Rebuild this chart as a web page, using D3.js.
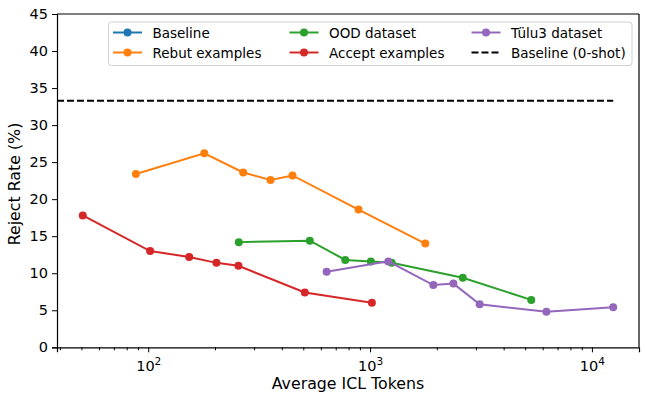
<!DOCTYPE html>
<html><head><meta charset="utf-8">
<script src="https://cdn.jsdelivr.net/npm/d3@7"></script>
<style>body{margin:0;background:#fff}svg{display:block}text{font-family:"DejaVu Sans",sans-serif}</style>
</head><body><svg id="c" width="647" height="400"></svg>
<script>
const rebutX = [88, 179, 268, 356, 447, 887, 1774];
const rebutY = [23.4, 26.2, 23.6, 22.6, 23.2, 18.6, 14.0];
const acceptX = [50.7, 102, 153, 203, 255, 508, 1019];
const acceptY = [17.8, 13.0, 12.2, 11.4, 11.0, 7.4, 6.0];
const oodX = [256, 535, 773, 1008, 1251, 2617, 5326];
const oodY = [14.2, 14.4, 11.8, 11.6, 11.4, 9.4, 6.4];
const tuluX = [637, 1208, 1928, 2375, 3119, 6237, 12470];
const tuluY = [10.2, 11.6, 8.4, 8.6, 5.8, 4.8, 5.4];
const baselineZeroShot = 33.3;
const yTicks = [0, 5, 10, 15, 20, 25, 30, 35, 40, 45];
const xTicks = [100, 1000, 10000];
const xTickLabels = ["2", "3", "4"];
const legendNames = ["Baseline", "Rebut examples", "OOD dataset", "Accept examples", "Tülu3 dataset", "Baseline (0-shot)"];

const svg = d3.select("#c");
const L = 57, R = 639, T = 14, B = 347.3;
const x = d3.scaleLog().domain([38.8, 16300]).range([L, R]);
const y = d3.scaleLinear().domain([0, 45]).range([B, T]);

const series = [
  {name: "Rebut examples", xs: rebutX, ys: rebutY, color: "#ff7f0e"},
  {name: "OOD dataset", xs: oodX, ys: oodY, color: "#2ca02c"},
  {name: "Accept examples", xs: acceptX, ys: acceptY, color: "#d62728"},
  {name: "Tülu3 dataset", xs: tuluX, ys: tuluY, color: "#9467bd"}
];

// baseline dashed
svg.append("line").attr("x1", L).attr("x2", x(12470))
  .attr("y1", y(baselineZeroShot)).attr("y2", y(baselineZeroShot))
  .attr("stroke", "#000").attr("stroke-width", 2).attr("stroke-dasharray", "7,3");

const line = d3.line().x(d => x(d[0])).y(d => y(d[1]));
series.forEach(s => {
  const pts = s.xs.map((v, i) => [v, s.ys[i]]);
  svg.append("path").attr("d", line(pts)).attr("fill", "none")
    .attr("stroke", s.color).attr("stroke-width", 2);
  svg.selectAll(null).data(pts).enter().append("circle")
    .attr("cx", d => x(d[0])).attr("cy", d => y(d[1])).attr("r", 4).attr("fill", s.color);
});

// axes
const gy = svg.append("g").attr("transform", `translate(${L},0)`)
  .call(d3.axisLeft(y).tickValues(yTicks).tickSize(5).tickPadding(4));
gy.selectAll("text").attr("font-size", 14.5).attr("fill", "#000").style("font-family", "DejaVu Sans");
const minor = [];
[10, 100, 1000, 10000].forEach(p => { for (let k = 2; k <= 9; k++) { const v = p * k; if (v >= 38.8 && v <= 16300) minor.push(v); } });
const gxm = svg.append("g").attr("transform", `translate(0,${B})`)
  .call(d3.axisBottom(x).tickValues(minor).tickSize(3).tickFormat(""));
gxm.select(".domain").remove();
const gx = svg.append("g").attr("transform", `translate(0,${B})`)
  .call(d3.axisBottom(x).tickValues(xTicks).tickSize(5).tickFormat(""));
gx.selectAll(".tick").each(function(d, i) {
  const t = d3.select(this).append("text").attr("y", 24).attr("fill", "#000")
    .attr("text-anchor", "middle").attr("font-size", 14.5);
  t.append("tspan").text("10");
  t.append("tspan").attr("dy", -6).attr("font-size", 10.5).text(xTickLabels[i]);
});
svg.selectAll(".domain").attr("stroke", "#000").attr("stroke-width", 1.2);
svg.selectAll(".tick line").attr("stroke", "#000").attr("stroke-width", 1);
// top/right spines
svg.append("line").attr("x1", L).attr("x2", R).attr("y1", T).attr("y2", T).attr("stroke", "#000").attr("stroke-width", 1.2);
svg.append("line").attr("x1", R).attr("x2", R).attr("y1", T).attr("y2", B).attr("stroke", "#000").attr("stroke-width", 1.2);

svg.append("text").attr("x", (L + R) / 2).attr("y", 388.5).attr("text-anchor", "middle")
  .attr("font-size", 15.8).text("Average ICL Tokens");
svg.append("text").attr("transform", `translate(19.5,184) rotate(-90)`)
  .attr("text-anchor", "middle").attr("font-size", 15.8).text("Reject Rate (%)");

// legend
const lg = svg.append("g");
lg.append("rect").attr("x", 108.5).attr("y", 22).attr("width", 523.5).attr("height", 43.5)
  .attr("rx", 3).attr("fill", "#fff").attr("fill-opacity", 0.8).attr("stroke", "#d0d0d0");
const legColors = ["#1f77b4", "#ff7f0e", "#2ca02c", "#d62728", "#9467bd", "#000"];
const colX = [113, 289.5, 471.5];
const rowY = [32.5, 52.5];
legendNames.forEach((n, i) => {
  const c = Math.floor(i / 2), r = i % 2;
  const hx = colX[c], hy = rowY[r];
  const g = lg.append("g");
  if (i === 5) {
    g.append("line").attr("x1", hx).attr("x2", hx + 29).attr("y1", hy).attr("y2", hy)
      .attr("stroke", "#000").attr("stroke-width", 2).attr("stroke-dasharray", "7,3");
  } else {
    g.append("line").attr("x1", hx).attr("x2", hx + 29).attr("y1", hy).attr("y2", hy)
      .attr("stroke", legColors[i]).attr("stroke-width", 2);
    g.append("circle").attr("cx", hx + 14.5).attr("cy", hy).attr("r", 4).attr("fill", legColors[i]);
  }
  g.append("text").attr("x", hx + 39.5).attr("y", hy + 5).attr("font-size", 13.5).text(n);
});
</script></body></html>
